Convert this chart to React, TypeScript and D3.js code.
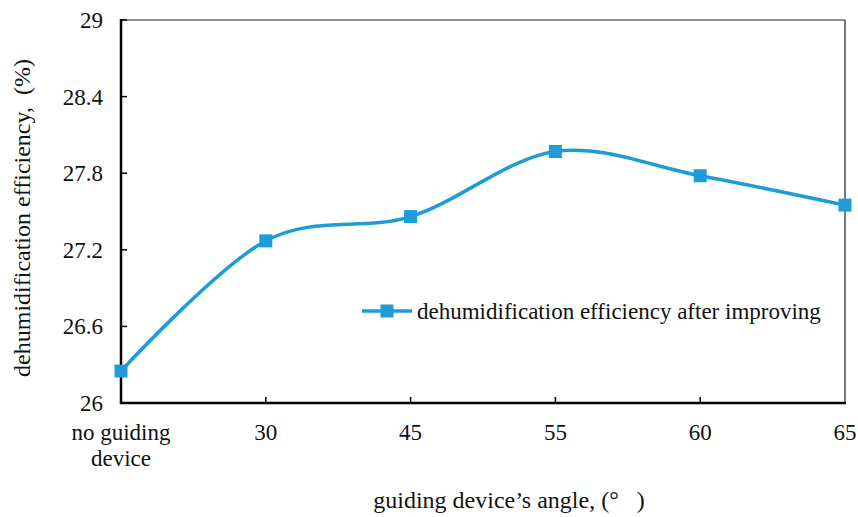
import React from 'react';
import * as d3 from 'd3';

const categories = ['no guiding\ndevice', '30', '45', '55', '60', '65'];
const efficiency = [26.25, 27.27, 27.46, 27.97, 27.78, 27.55];
const yTicks = [26, 26.6, 27.2, 27.8, 28.4, 29];
const seriesName = 'dehumidification efficiency after improving';

const W = 858;
const H = 517;
const margin = { top: 20, right: 13, bottom: 114, left: 121 };
const color = '#1f9bd8';
const font = '"Liberation Serif", "Times New Roman", serif';

const App = () => {
  const x = d3.scalePoint<string>()
    .domain(categories)
    .range([margin.left, W - margin.right]);

  const y = d3.scaleLinear()
    .domain([26, 29])
    .range([H - margin.bottom, margin.top]);

  const line = d3.line<number>()
    .x((d, i) => x(categories[i]) as number)
    .y(d => y(d))
    .curve(d3.curveCardinal.tension(0));

  const x0 = margin.left;
  const x1 = W - margin.right;
  const y0 = margin.top;
  const y1 = H - margin.bottom;

  return (
    <svg width={W} height={H} style={{ position: 'absolute', left: 0, top: 0, background: '#fff' }}>
      {/* frame: thin top/right */}
      <line x1={x0} x2={x1} y1={y0} y2={y0} stroke="#222" strokeWidth={1.2} />
      <line x1={x1} x2={x1} y1={y0} y2={y1} stroke="#222" strokeWidth={1.2} />

      {/* y ticks + labels */}
      {yTicks.map(t => (
        <g key={t}>
          <line x1={x0} x2={x0 + 6} y1={y(t)} y2={y(t)} stroke="#000" strokeWidth={1.5} />
          <text x={103} y={y(t)} dy="0.35em" textAnchor="end" fontFamily={font} fontSize={23} fill="#111">
            {t}
          </text>
        </g>
      ))}

      {/* x ticks + labels */}
      {categories.map((c, i) => (
        <g key={c}>
          {i > 0 && i < categories.length - 1 && (
            <line x1={x(c)} x2={x(c)} y1={y1} y2={y1 - 6} stroke="#000" strokeWidth={1.5} />
          )}
          <text x={x(c)} y={y1 + 37} textAnchor="middle" fontFamily={font} fontSize={23} fill="#111">
            {c.split('\n').map((s, k) => (
              <tspan key={k} x={x(c)} dy={k === 0 ? 0 : 26}>{s}</tspan>
            ))}
          </text>
        </g>
      ))}

      {/* axes: thick left/bottom */}
      <line x1={x0} x2={x0} y1={y0 - 1} y2={y1 + 1} stroke="#000" strokeWidth={2.5} />
      <line x1={x0 - 1} x2={x1 + 1} y1={y1} y2={y1} stroke="#000" strokeWidth={2.5} />

      {/* series */}
      <path d={line(efficiency) ?? ''} fill="none" stroke={color} strokeWidth={3.5} />
      {efficiency.map((v, i) => (
        <rect key={i} x={(x(categories[i]) as number) - 6.5} y={y(v) - 6.5} width={13} height={13} fill={color} />
      ))}

      {/* legend */}
      <line x1={362} x2={412} y1={311} y2={311} stroke={color} strokeWidth={3.5} />
      <rect x={380.5} y={304.5} width={13} height={13} fill={color} />
      <text x={417} y={311} dy="0.35em" fontFamily={font} fontSize={23} fill="#111">{seriesName}</text>

      {/* axis titles */}
      <text transform="translate(30,218) rotate(-90)" textAnchor="middle" fontFamily={font} fontSize={24} fill="#111" xmlSpace="preserve">
        dehumidification efficiency,  (%)
      </text>
      <text x={509} y={500} dy="0.35em" textAnchor="middle" fontFamily={font} fontSize={24} fill="#111" xmlSpace="preserve">
        guiding device’s angle, (°   )
      </text>
    </svg>
  );
};

export default App;
